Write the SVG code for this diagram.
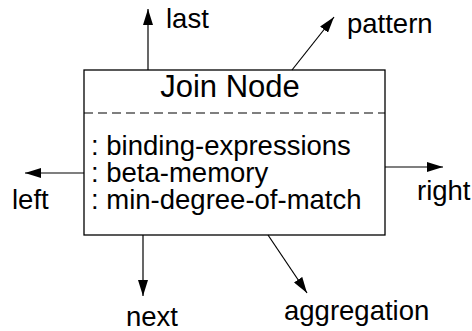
<svg xmlns="http://www.w3.org/2000/svg" width="472" height="331" viewBox="0 0 472 331">
<defs>
<marker id="ah" viewBox="0 0 16 10" refX="16" refY="5" markerWidth="16" markerHeight="10" markerUnits="userSpaceOnUse" orient="auto">
<path d="M0,0 L16,5 L0,10 Z" fill="#000"/>
</marker>
<style>
.t{font-family:"Liberation Sans",Arial,sans-serif;fill:#000}
.lbl{font-size:27.5px}
.ttl{font-size:31px}
.attr{font-size:27.5px}
.c{stroke:#000;stroke-width:1.2;fill:none;marker-end:url(#ah)}
</style>
</defs>
<rect width="472" height="331" fill="#fff"/>
<g id="join-node">
<rect x="84" y="70" width="301" height="165" fill="none" stroke="#000" stroke-width="1.3"/>
<line x1="84" y1="113" x2="385" y2="113" stroke="#000" stroke-width="1.2" stroke-dasharray="9,5"/>
<text class="t ttl" x="230" y="97" text-anchor="middle">Join Node</text>
<text class="t attr" x="91" y="155">: binding-expressions</text>
<text class="t attr" x="91" y="182">: beta-memory</text>
<text class="t attr" x="91" y="209">: min-degree-of-match</text>
</g>
<g id="connectors">
<line class="c" x1="148" y1="70" x2="148" y2="9"/>
<line class="c" x1="292" y1="70" x2="334" y2="17"/>
<line class="c" x1="84" y1="173" x2="25" y2="173"/>
<line class="c" x1="385" y1="167" x2="443" y2="167"/>
<line class="c" x1="143" y1="235" x2="143" y2="296"/>
<line class="c" x1="268" y1="235" x2="307" y2="293"/>
</g>
<g id="labels">
<text class="t lbl" x="166" y="28">last</text>
<text class="t lbl" x="347" y="33">pattern</text>
<text class="t lbl" x="12" y="209">left</text>
<text class="t lbl" x="417" y="200">right</text>
<text class="t lbl" x="126" y="326">next</text>
<text class="t lbl" x="284" y="320">aggregation</text>
</g>
</svg>
